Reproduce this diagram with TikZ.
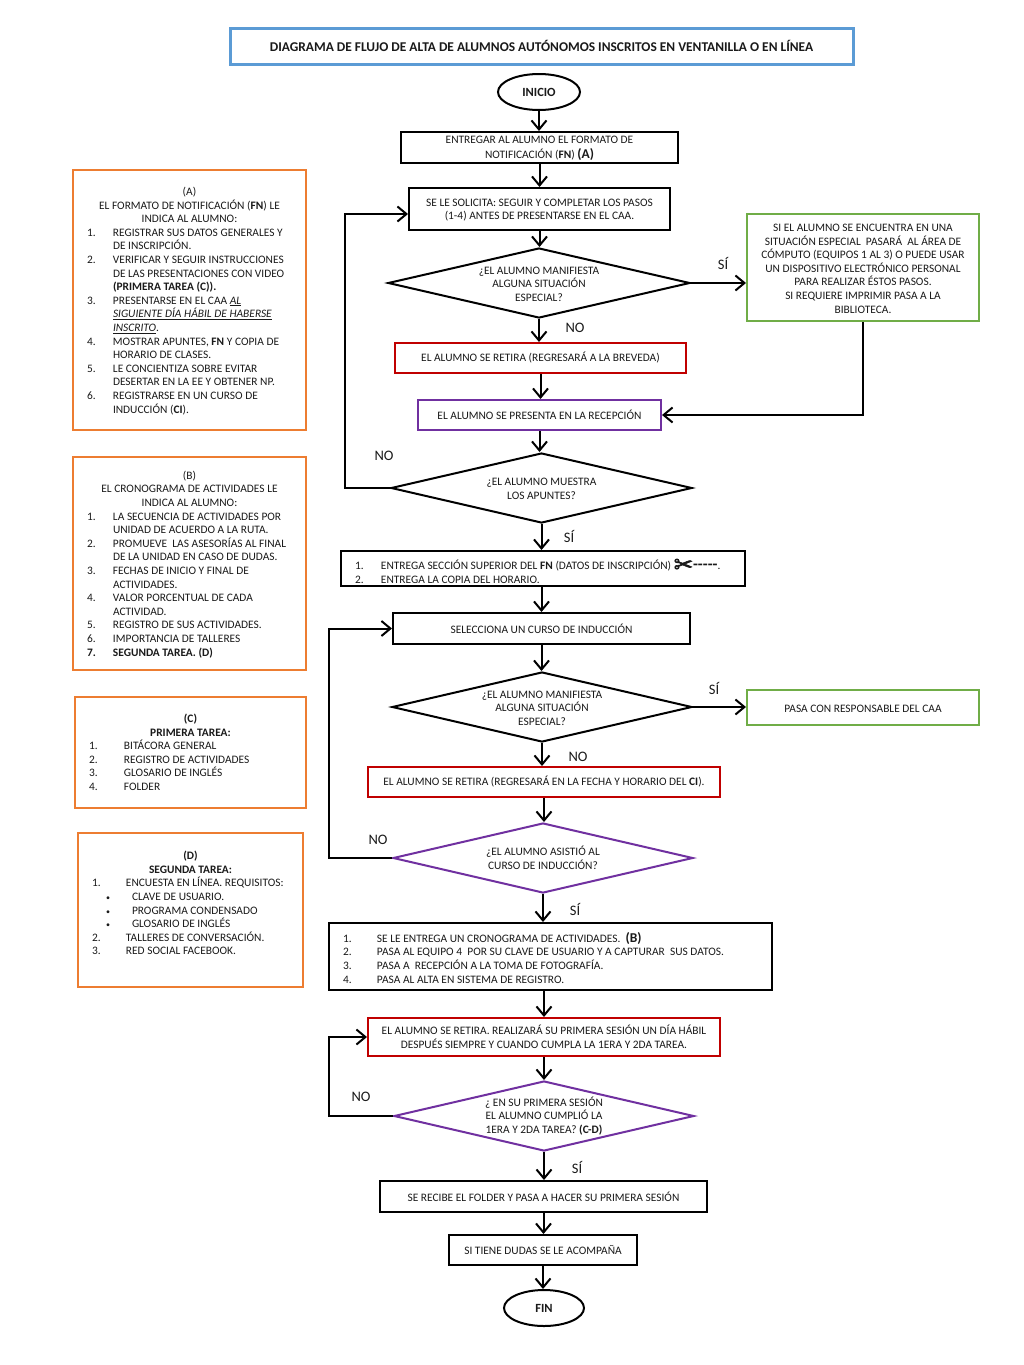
\documentclass[tikz,border=0pt]{standalone}
\usepackage{fontspec}
\usetikzlibrary{shapes.geometric,arrows.meta}
\setmainfont{Carlito}
\newfontfamily\dejavu[FakeBold=2.5]{DejaVu Sans}
\definecolor{cblue}{HTML}{5B9BD5}
\definecolor{corange}{HTML}{ED7D31}
\definecolor{cgreen}{HTML}{70AD47}
\definecolor{cred}{HTML}{C00000}
\definecolor{cpurple}{HTML}{7030A0}
\definecolor{ctext}{HTML}{1A1A1A}
\newdimen\listind
\newcommand{\setlist}[2][.5pt]{\listind=#2\relax\vskip#1\relax}
\newcommand{\tailsp}[1]{\vskip#1\relax\prevdepth=-1000pt\hbox{}}
\newcommand{\nsp}{\spaceskip=.23em\relax}
\newcommand{\cl}[1]{\hbox to\hsize{\nsp\hss #1\hss}}
\newcommand{\li}[2]{\hbox to\hsize{\nsp\hbox to\listind{#1\hfil}#2\hss}}
\newcommand{\ct}[1]{\hbox to\hsize{\nsp\hskip\listind #1\hss}}
\newcommand{\bu}[1]{\hbox to\hsize{\nsp\hskip14pt\hbox to26pt{\fontsize{8}{8}\selectfont •\hfil}#1\hss}}
\newcommand{\tp}{\rule{0pt}{9.5pt}}
\tikzset{
  x=1pt,y=1pt,
  txt/.style={font=\fontsize{11.4}{13.6}\selectfont,text=ctext},
  box/.style={draw,line width=2pt,rectangle,inner sep=0pt,txt,align=center},
  sidebox/.style={draw=corange,line width=2pt,rectangle,inner xsep=14pt,inner ysep=0pt,txt},
  listbox/.style={draw=black,line width=2pt,rectangle,inner xsep=14pt,inner ysep=0pt,txt},
  dia/.style={diamond,draw,line width=2pt,inner sep=0pt,shape aspect=4.3,txt,align=center},
  term/.style={ellipse,draw=black,line width=2pt,inner sep=0pt,txt,font=\fontsize{12.5}{13.6}\selectfont\bfseries},
  arr/.style={line width=2pt,-{Straight Barb[length=9pt,width=15pt,line width=2pt]}},
  lab/.style={font=\fontsize{14.5}{16}\selectfont,text=ctext,inner sep=0pt},
}
\begin{document}
\begin{tikzpicture}
\useasboundingbox (0,0) rectangle (1024,-1365);
\fill[white] (0,0) rectangle (1024,-1365);
% title
\node[draw=cblue,line width=3pt,minimum width=623pt,minimum height=36pt,inner sep=0pt,font=\fontsize{13.4}{14}\selectfont\bfseries,text=ctext] (title) at (541.5,-46) {DIAGRAMA DE FLUJO DE ALTA DE ALUMNOS AUTÓNOMOS INSCRITOS EN VENTANILLA O EN LÍNEA};
% side boxes
\node[sidebox,text width=205pt,minimum height=260pt] (A) at (189.5,-300) {\setlist{26pt}
\cl{(A)}
\cl{EL FORMATO DE NOTIFICACIÓN (\textbf{FN}) LE}
\cl{INDICA AL ALUMNO:}
\li{1.}{REGISTRAR SUS DATOS GENERALES Y}
\ct{DE INSCRIPCIÓN.}
\li{2.}{VERIFICAR Y SEGUIR INSTRUCCIONES}
\ct{DE LAS PRESENTACIONES CON VIDEO}
\ct{\textbf{(PRIMERA TAREA (C)).}}
\li{3.}{PRESENTARSE EN EL CAA \underline{\textit{AL}}}
\ct{\underline{\textit{SIGUIENTE DÍA HÁBIL DE HABERSE}}}
\ct{\underline{\textit{INSCRITO}}.}
\li{4.}{MOSTRAR APUNTES, \textbf{FN} Y COPIA DE}
\ct{HORARIO DE CLASES.}
\li{5.}{LE CONCIENTIZA SOBRE EVITAR}
\ct{DESERTAR EN LA EE Y OBTENER NP.}
\li{6.}{REGISTRARSE EN UN CURSO DE}
\ct{INDUCCIÓN (\textbf{CI}).}
\tailsp{4pt}
};
\node[sidebox,text width=205pt,minimum height=213pt] (B) at (189.5,-563.5) {\setlist{26pt}
\cl{(B)}
\cl{EL CRONOGRAMA DE ACTIVIDADES LE}
\cl{INDICA AL ALUMNO:}
\li{1.}{LA SECUENCIA DE ACTIVIDADES POR}
\ct{UNIDAD DE ACUERDO A LA RUTA.}
\li{2.}{PROMUEVE\ \ LAS ASESORÍAS AL FINAL}
\ct{DE LA UNIDAD EN CASO DE DUDAS.}
\li{3.}{FECHAS DE INICIO Y FINAL DE}
\ct{ACTIVIDADES.}
\li{4.}{VALOR PORCENTUAL DE CADA}
\ct{ACTIVIDAD.}
\li{5.}{REGISTRO DE SUS ACTIVIDADES.}
\li{6.}{IMPORTANCIA DE TALLERES}
\li{\textbf{7.}}{\textbf{SEGUNDA TAREA. (D)}}
\tailsp{4pt}
};
\node[sidebox,text width=203pt,minimum height=111pt] (C) at (190.5,-752.5) {\setlist{35pt}
\cl{\textbf{(C)}}
\cl{\textbf{PRIMERA TAREA:}}
\li{1.}{BITÁCORA GENERAL}
\li{2.}{REGISTRO DE ACTIVIDADES}
\li{3.}{GLOSARIO DE INGLÉS}
\li{4.}{FOLDER}
\tailsp{6pt}
};
\node[sidebox,text width=197pt,minimum height=154pt] (D) at (190.5,-910) {\setlist{34pt}
\cl{\textbf{(D)}}
\cl{\textbf{SEGUNDA TAREA:}}
\li{1.}{ENCUESTA EN LÍNEA. REQUISITOS:}
\bu{CLAVE DE USUARIO.}
\bu{PROGRAMA CONDENSADO}
\bu{GLOSARIO DE INGLÉS}
\li{2.}{TALLERES DE CONVERSACIÓN.}
\li{3.}{RED SOCIAL FACEBOOK.}
\hbox{\strut}
\tailsp{2pt}
};
% main flow
\node[term,minimum width=82pt,minimum height=36pt] (inicio) at (539,-92) {INICIO};
\node[box,minimum width=277pt,minimum height=31pt] (b1) at (539.5,-147.5) {\tp ENTREGAR AL ALUMNO EL FORMATO DE\\[1.4pt]NOTIFICACIÓN (\textbf{FN}) {\fontsize{13.5}{13.6}\selectfont\textbf{(A)}}};
\node[box,minimum width=261pt,minimum height=42pt] (b2) at (539.5,-209) {\tp SE LE SOLICITA: SEGUIR Y COMPLETAR LOS PASOS\\(1-4) ANTES DE PRESENTARSE EN EL CAA.};
\node[dia,minimum width=302pt,minimum height=70pt] (d1) at (539,-283) {\tp ¿EL ALUMNO MANIFIESTA\\ALGUNA SITUACIÓN\\ESPECIAL?};
\node[box,draw=cgreen,minimum width=232pt,minimum height=107pt] (g1) at (863,-267.5) {\tp SI EL ALUMNO SE ENCUENTRA EN UNA\\SITUACIÓN ESPECIAL\ \ PASARÁ\ \ AL ÁREA DE\\CÓMPUTO (EQUIPOS 1 AL 3) O PUEDE USAR\\UN DISPOSITIVO ELECTRÓNICO PERSONAL\\PARA REALIZAR ÉSTOS PASOS.\\SI REQUIERE IMPRIMIR PASA A LA\\BIBLIOTECA.};
\node[box,draw=cred,minimum width=291pt,minimum height=30pt] (r1) at (540.5,-358) {\tp EL ALUMNO SE RETIRA (REGRESARÁ A LA BREVEDA)};
\node[box,draw=cpurple,minimum width=243pt,minimum height=30pt] (p1) at (539.5,-415) {EL ALUMNO SE PRESENTA EN LA RECEPCIÓN};
\node[dia,minimum width=301pt,minimum height=70pt] (d2) at (541.5,-488) {\tp ¿EL ALUMNO MUESTRA\\LOS APUNTES?};
\node[listbox,text width=376pt,minimum height=35pt] (l1) at (543,-568.5) {\setlist[2pt]{26pt}
\li{1.}{ENTREGA SECCIÓN SUPERIOR DEL \textbf{FN} (DATOS DE INSCRIPCIÓN) \raisebox{-3pt}[0pt][0pt]{\dejavu\fontsize{23}{13.6}\selectfont ✂}\textbf{\fontsize{16}{13.6}\selectfont{-}{-}{-}{-}{-}}.}
\li{2.}{ENTREGA LA COPIA DEL HORARIO.}
};
\node[box,minimum width=297pt,minimum height=31pt] (s1) at (541.5,-628.5) {SELECCIONA UN CURSO DE INDUCCIÓN};
\node[dia,minimum width=300pt,minimum height=70pt] (d3) at (542,-707) {\tp ¿EL ALUMNO MANIFIESTA\\ALGUNA SITUACIÓN\\ESPECIAL?};
\node[box,draw=cgreen,minimum width=232pt,minimum height=35pt] (g2) at (863,-707.5) {\tp PASA CON RESPONSABLE DEL CAA};
\node[box,draw=cred,minimum width=352pt,minimum height=30pt] (r2) at (544,-782) {\tp EL ALUMNO SE RETIRA (REGRESARÁ EN LA FECHA Y HORARIO DEL \textbf{CI}).};
\node[dia,draw=cpurple,minimum width=300pt,minimum height=70pt] (d4) at (543,-858) {¿EL ALUMNO ASISTIÓ AL\\CURSO DE INDUCCIÓN?};
\node[listbox,text width=415pt,minimum height=67pt] (l2) at (550.5,-956.5) {\setlist[1pt]{34pt}
\li{1.}{SE LE ENTREGA UN CRONOGRAMA DE ACTIVIDADES.\ \ {\fontsize{13.5}{13.6}\selectfont\textbf{(B)}}}
\li{2.}{PASA AL EQUIPO 4\ \ POR SU CLAVE DE USUARIO Y A CAPTURAR\ \ SUS DATOS.}
\li{3.}{PASA A\ \ RECEPCIÓN A LA TOMA DE FOTOGRAFÍA.}
\li{4.}{PASA AL ALTA EN SISTEMA DE REGISTRO.}
\tailsp{2pt}
};
\node[box,draw=cred,minimum width=352pt,minimum height=38pt] (r3) at (544,-1037) {EL ALUMNO SE RETIRA. REALIZARÁ SU PRIMERA SESIÓN UN DÍA HÁBIL\\DESPUÉS SIEMPRE Y CUANDO CUMPLA LA 1ERA Y 2DA TAREA.};
\node[dia,draw=cpurple,minimum width=300pt,minimum height=70pt] (d5) at (544,-1116) {¿ EN SU PRIMERA SESIÓN\\EL ALUMNO CUMPLIÓ LA\\1ERA Y 2DA TAREA? \textbf{(C-D)}};
\node[box,minimum width=327pt,minimum height=31pt] (b3) at (543.5,-1196.5) {SE RECIBE EL FOLDER Y PASA A HACER SU PRIMERA SESIÓN};
\node[box,minimum width=188pt,minimum height=30pt] (b4) at (543,-1250) {SI TIENE DUDAS SE LE ACOMPAÑA};
\node[term,minimum width=80pt,minimum height=36pt] (fin) at (544,-1308) {FIN};
% helper corners
\coordinate (c1) at (345,-488);
\coordinate (c1b) at (345,-214);
\coordinate (c2) at (329,-858);
\coordinate (c2b) at (329,-628.5);
\coordinate (c3) at (329,-1116);
\coordinate (c3b) at (329,-1037);
% connectors
\draw[arr] (inicio.south) -- (inicio.south |- b1.north);
\draw[arr] (b1.south) -- (b1.south |- b2.north);
\draw[arr] (b2.south) -- (b2.south |- d1.north);
\draw[arr] (d1.south) -- (d1.south |- r1.north);
\draw[arr] (d1.east) -- (g1.west |- d1.east);
\draw[arr] (r1.south) -- (r1.south |- p1.north);
\draw[arr] (g1.south) |- (p1.east);
\draw[arr] (p1.south) -- (p1.south |- d2.north);
\draw[arr] (d2.west) -- (c1) -- (c1b) -- (b2.west |- c1b);
\draw[arr] (d2.south) -- (d2.south |- l1.north);
\draw[arr] (l1.south -| s1.south) -- (s1.north);
\draw[arr] (s1.south) -- (s1.south |- d3.north);
\draw[arr] (d3.east) -- (g2.west |- d3.east);
\draw[arr] (d3.south) -- (d3.south |- r2.north);
\draw[arr] (r2.south) -- (r2.south |- d4.north);
\draw[arr] (d4.west) -- (c2) -- (c2b) -- (s1.west);
\draw[arr] (d4.south) -- (d4.south |- l2.north);
\draw[arr] (l2.south -| r3.north) -- (r3.north);
\draw[arr] (r3.south) -- (r3.south |- d5.north);
\draw[arr] (d5.west) -- (c3) -- (c3b) -- (r3.west);
\draw[arr] (d5.south) -- (d5.south |- b3.north);
\draw[arr] (b3.south) -- (b3.south |- b4.north);
\draw[arr] (b4.south) -- (b4.south |- fin.north);
% labels
\node[lab] (ls1) at (723,-263) {SÍ};
\node[lab] (ln1) at (575,-328) {NO};
\node[lab] (ln2) at (384,-456) {NO};
\node[lab] (ls2) at (569,-536) {SÍ};
\node[lab] (ls3) at (714,-688) {SÍ};
\node[lab] (ln3) at (578,-757) {NO};
\node[lab] (ln4) at (378,-840) {NO};
\node[lab] (ls4) at (575,-909) {SÍ};
\node[lab] (ln5) at (361,-1097) {NO};
\node[lab] (ls5) at (577,-1167) {SÍ};
\end{tikzpicture}
\end{document}
